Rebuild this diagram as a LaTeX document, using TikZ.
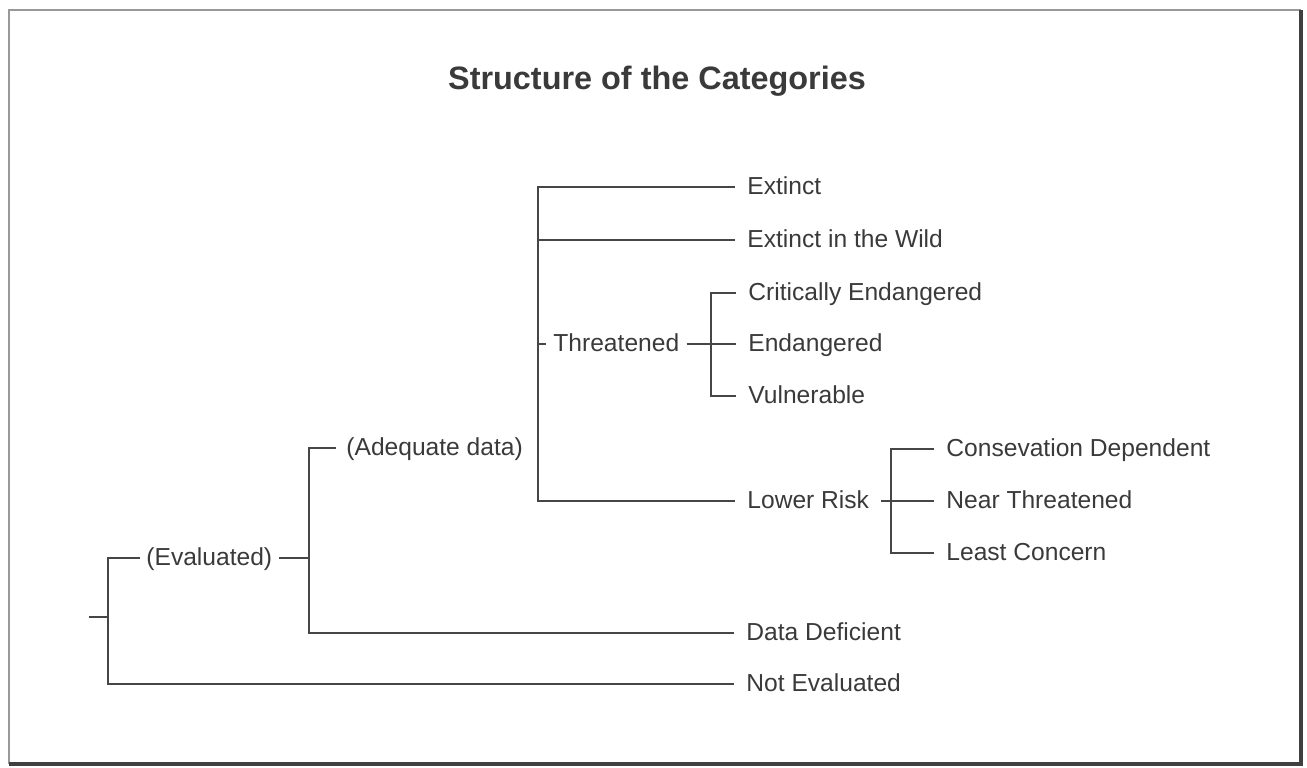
\documentclass[tikz,border=0pt]{standalone}
\usepackage{fontspec}
\setmainfont{Liberation Sans}
\usepackage{tikz}
\usetikzlibrary{calc}
\definecolor{inkgray}{HTML}{3A3A3A}
\definecolor{linegray}{HTML}{464646}
\tikzset{
    cat/.style={anchor=west, font=\fontsize{12.3}{14}\selectfont, text=inkgray,
        inner xsep=6pt, inner ysep=0pt, text height=0.72em, text depth=0pt},
    branch/.style={draw=linegray, line width=1.2pt},
    title/.style={anchor=base, font=\fontsize{16.2}{19}\selectfont\bfseries, text=inkgray}
}

\begin{document}
\begin{tikzpicture}[x=0.5pt, y=-0.5pt]
            \useasboundingbox (0,0) rectangle (1307,767);
            % frame
            \draw[gray!80, line width=1pt] (9,764) -- (9,10) -- (1301,10);
            \draw[black!75, line width=1.6pt] (9,764) -- (1301,764) -- (1301,10);

            \node[title] (ttl) at (657,89) {Structure of the Categories};

            % junction columns
            \coordinate (root) at (89,617); \coordinate (j0) at (108,617);
            \coordinate (j1) at (309,540); \coordinate (j2) at (538,340);
            \coordinate (j3) at (711,344); \coordinate (j4) at (891,501);

            % first level
            \node[cat, inner xsep=3pt] (eval) at (140,558) {(Evaluated)};
            \node[cat] (ne) at (734,684) {Not Evaluated};

            % second level
            \node[cat, inner xsep=5pt] (adeq) at (336,448) {(Adequate data)};
            \node[cat] (dd) at (734,633) {Data Deficient};

            % third level
            \node[cat] (ex) at (735,187) {Extinct};
            \node[cat] (exw) at (735,240) {Extinct in the Wild};
            \node[cat, inner xsep=3.5pt] (thr) at (546,344) {Threatened};
            \node[cat] (lr) at (735,501) {Lower Risk};

            % threatened categories
            \node[cat] (cr) at (736,293) {Critically Endangered};
            \node[cat] (en) at (736,344) {Endangered};
            \node[cat] (vu) at (736,396) {Vulnerable};

            % lower risk categories
            \node[cat] (cd) at (934,449) {Consevation Dependent};
            \node[cat] (nt) at (934,501) {Near Threatened};
            \node[cat] (lc) at (934,553) {Least Concern};

            % brackets
            \draw[branch] (root) -- (j0);
            \draw[branch] (eval.west) -- (eval.west -| j0) -- (ne.west -| j0) -- (ne.west);
            \draw[branch] (eval.east) -- (eval.east -| j1);
            \draw[branch] (adeq.west) -- (adeq.west -| j1) -- (dd.west -| j1) -- (dd.west);
            \draw[branch] (ex.west) -- (ex.west -| j2) -- (lr.west -| j2) -- (lr.west);
            \foreach \n in {exw, thr}
                \draw[branch] (\n.west) -- (\n.west -| j2);
            \draw[branch] (cr.west) -- (cr.west -| j3) -- (vu.west -| j3) -- (vu.west);
            \draw[branch] (thr.east) -- (en.west);
            \draw[branch] (cd.west) -- (cd.west -| j4) -- (lc.west -| j4) -- (lc.west);
            \draw[branch] (lr.east) -- (nt.west);
        \end{tikzpicture}
\end{document}
